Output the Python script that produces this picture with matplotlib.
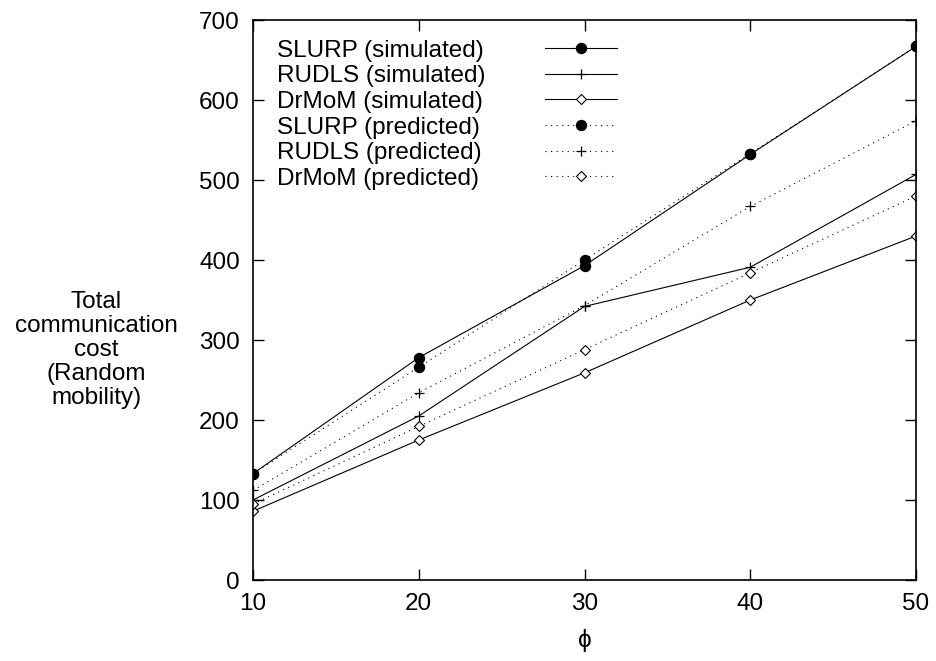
import matplotlib
matplotlib.use("Agg")
import matplotlib.pyplot as plt

plt.rcParams['font.family'] = ['Liberation Sans', 'DejaVu Sans']

phi = [10, 20, 30, 40, 50]
slurp_sim = [133, 278, 393, 532, 667]
rudls_sim = [100, 205, 342, 391, 507]
drmom_sim = [86, 175, 259, 350, 430]
slurp_pred = [133, 266, 400, 533, 667]
rudls_pred = [112, 234, 343, 467, 574]
drmom_pred = [95, 192, 288, 384, 480]

labels = ["SLURP (simulated)", "RUDLS (simulated)", "DrMoM (simulated)",
          "SLURP (predicted)", "RUDLS (predicted)", "DrMoM (predicted)"]
xticks = [10, 20, 30, 40, 50]
yticks = [0, 100, 200, 300, 400, 500, 600, 700]

FS = 17.5
fig = plt.figure(figsize=(9.37, 6.61), dpi=100)
ax = fig.add_axes([0.270, 0.1225, 0.7076, 0.8472])

lw = 0.8
dot = (0, (1, 4))
circ = dict(marker='o', ms=7.2, mfc='black', mec='black')
plus = dict(marker='+', ms=7, mew=0.9)
diam = dict(marker='D', ms=5.5, mfc='white', mec='black', mew=0.8)
h1, = ax.plot(phi, slurp_sim, '-', color='black', lw=lw, **circ)
h2, = ax.plot(phi, rudls_sim, '-', color='black', lw=lw, **plus)
h3, = ax.plot(phi, drmom_sim, '-', color='black', lw=lw, **diam)
h4, = ax.plot(phi, slurp_pred, linestyle=dot, color='black', lw=lw, **circ)
h5, = ax.plot(phi, rudls_pred, linestyle=dot, color='black', lw=lw, **plus)
h6, = ax.plot(phi, drmom_pred, linestyle=dot, color='black', lw=lw, **diam)
handles = [h1, h2, h3, h4, h5, h6]

ax.set_xlim(10, 50)
ax.set_ylim(0, 700)
ax.set_xticks(xticks)
ax.set_yticks(yticks)
ax.tick_params(direction='in', length=8, width=1, top=True, right=True, labelsize=FS, pad=9.5)
for s in ax.spines.values():
    s.set_linewidth(1.2)

ax.set_xlabel("ϕ", fontsize=FS, labelpad=10)
fig.text(0.103, 0.470, "Total\ncommunication\ncost\n(Random\nmobility)",
         ha='center', va='center', fontsize=FS, linespacing=1.12)

# legend: texts (left aligned) and handles in two aligned boxes
common = dict(loc='upper left', frameon=False, fontsize=FS, labelspacing=0.15,
              borderaxespad=0, borderpad=0, numpoints=1)
legA = ax.legend(handles, labels, bbox_to_anchor=(0.036, 0.965),
                 handlelength=0, handletextpad=0, **common)
for h in legA.legend_handles:
    h.set_visible(False)
ax.add_artist(legA)
legB = ax.legend(handles, labels, bbox_to_anchor=(0.440, 0.965),
                 handlelength=72 / (FS * 100 / 72), handletextpad=0, **common)
for t in legB.get_texts():
    t.set_color('none')

fig.savefig("out.png", dpi=100)
